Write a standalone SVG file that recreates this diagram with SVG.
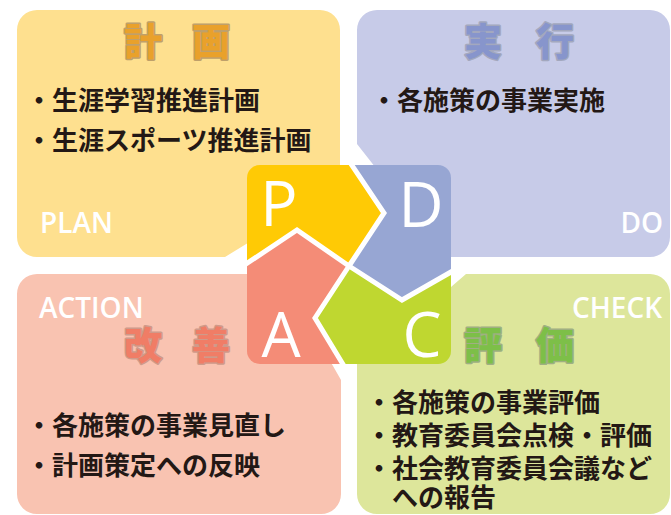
<svg xmlns="http://www.w3.org/2000/svg" width="671" height="515" viewBox="0 0 671 515">
<defs>
<style>
.body{font-family:"Noto Sans CJK JP","Noto Sans CJK SC",sans-serif;font-size:26px;font-weight:bold;fill:#231815}
.head{font-family:"Noto Sans CJK JP","Noto Sans CJK SC",sans-serif;font-size:38px;font-weight:900;stroke-width:3;paint-order:stroke;stroke-linejoin:round}
.en{font-family:"Open Sans","Noto Sans",sans-serif;font-size:28px;font-weight:600;fill:#ffffff}
.big{font-family:"Open Sans","Noto Sans",sans-serif;font-size:62px;fill:#ffffff;text-anchor:middle}
.sep{fill:none;stroke:#ffffff;stroke-width:5;stroke-linejoin:miter}
</style>
<clipPath id="sq"><rect x="247" y="165" width="204" height="199" rx="13"/></clipPath>
</defs>
<rect width="671" height="515" fill="#ffffff"/>

<g id="plan">
<path d="M37,10 H320 A20,20 0 0 1 340,30 V210 L300,211 L225,257 H37 A20,20 0 0 1 17,237 V30 A20,20 0 0 1 37,10 Z" fill="#FEE08F"/>
<text class="head" x="124 192" y="55" fill="#E9A12B" stroke="#BFA06A">計画</text>
<text class="body" x="26" y="110">・生涯学習推進計画</text>
<text class="body" x="26" y="150">・生涯スポーツ推進計画</text>
<text class="en" x="40" y="233">PLAN</text>
</g>

<g id="do">
<path d="M377,10 H650 A20,20 0 0 1 670,30 V237 A20,20 0 0 1 650,257 H430 V200 L401,200 L357,144 V30 A20,20 0 0 1 377,10 Z" fill="#C7CBE8"/>
<text class="head" x="464 536" y="55" fill="#8795CC" stroke="#A3A8BE">実行</text>
<text class="body" x="371" y="110">・各施策の事業実施</text>
<text class="en" x="663" y="233" text-anchor="end">DO</text>
</g>

<g id="action">
<path d="M37,274 H320 V344 L333,366 L341,380 V494 A20,20 0 0 1 321,514 H37 A20,20 0 0 1 17,494 V294 A20,20 0 0 1 37,274 Z" fill="#F9C3B1"/>
<text class="en" x="39" y="318">ACTION</text>
<text class="head" x="124 192" y="359" fill="#F07D66" stroke="#CF9A8A">改善</text>
<text class="body" x="26" y="435">・各施策の事業見直し</text>
<text class="body" x="26" y="475">・計画策定への反映</text>
</g>

<g id="check">
<path d="M357,494 V340 H440 L451,287 L466,274 H650 A20,20 0 0 1 670,294 V494 A20,20 0 0 1 650,514 H377 A20,20 0 0 1 357,494 Z" fill="#DDE69B"/>
<text class="en" x="662" y="318" text-anchor="end">CHECK</text>
<text class="head" x="464 536" y="359" fill="#7DBF48" stroke="#9FAF82">評価</text>
<text class="body" x="366" y="412">・各施策の事業評価</text>
<text class="body" x="366" y="445">・教育委員会点検・評価</text>
<text class="body" x="366" y="478">・社会教育委員会議など</text>
<text class="body" x="392" y="507">への報告</text>
</g>

<g id="pdca" clip-path="url(#sq)">
<polygon id="piece-p" points="240,158 347,158 384,213 349,266 297,230 240,268" fill="#FFCA05"/>
<polygon id="piece-d" points="347,158 458,158 458,268 402,300 349,266 384,213" fill="#97A6D3"/>
<polygon id="piece-c" points="349,266 402,300 458,268 458,371 347,371 315,318" fill="#BFD730"/>
<polygon id="piece-a" points="240,268 297,230 349,266 315,318 347,371 240,371" fill="#F48C77"/>
<g id="connectors">
<polyline class="sep" points="347,158 384,213 349,266"/>
<polyline class="sep" points="349,266 402,300 458,268"/>
<polyline class="sep" points="349,266 315,318 347,371"/>
<polyline class="sep" points="349,266 297,230 240,268"/>
</g>
<text class="big" x="279" y="226">P</text>
<text class="big" x="421" y="227">D</text>
<text class="big" x="281" y="357">A</text>
<text class="big" x="422" y="357">C</text>
</g>
</svg>
